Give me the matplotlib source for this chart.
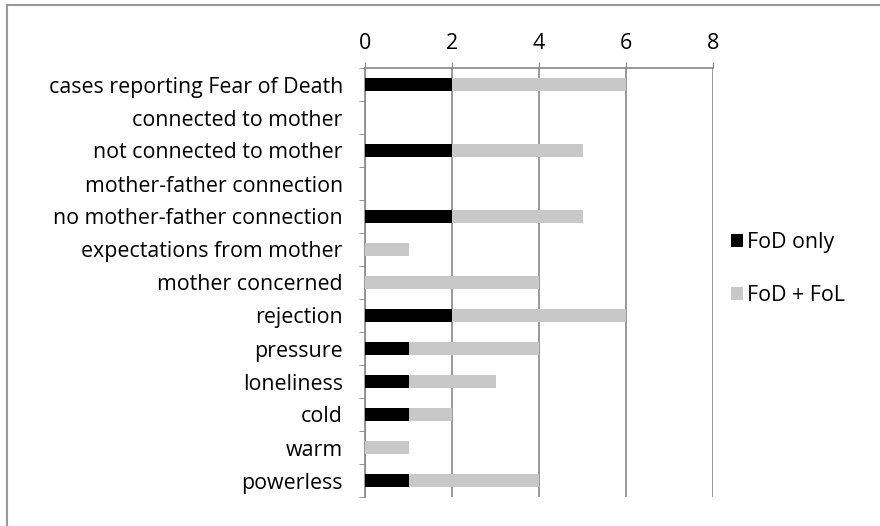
import numpy as np
import matplotlib.pyplot as plt
from matplotlib.lines import Line2D

# Kategorie (od góry)
categories = [
    'cases reporting Fear of Death',
    'connected to mother',
    'not connected to mother',
    'mother-father connection',
    'no mother-father connection',
    'expectations from mother',
    'mother concerned',
    'rejection',
    'pressure',
    'loneliness',
    'cold',
    'warm',
    'powerless',
]
fod_only = [2, 0, 2, 0, 2, 0, 0, 2, 1, 1, 1, 0, 1]
fod_fol = [4, 0, 3, 0, 3, 1, 4, 4, 3, 2, 1, 1, 3]
x_ticks = [0, 2, 4, 6, 8]

plt.rcParams['font.family'] = ['Open Sans', 'DejaVu Sans']
fs = 15.4

fig = plt.figure(figsize=(8.8, 5.26), dpi=100)
ax = fig.add_axes([365 / 880, 1 - 497 / 526, 348 / 880, 429 / 526])

y = np.arange(len(categories))
ax.barh(y, fod_only, height=0.4, color='black', label='FoD only', zorder=3)
ax.barh(y, fod_fol, left=fod_only, height=0.4, color='#c8c8c8', label='FoD + FoL', zorder=3)

ax.set_ylim(len(categories) - 0.5, -0.5)
ax.set_xlim(0, 8)
ax.set_xticks(x_ticks)
ax.xaxis.tick_top()
ax.tick_params(axis='x', which='major', direction='out', length=4, color='#888888',
               labelsize=fs, pad=6)

ax.set_yticks(y)
ax.set_yticklabels(categories, fontsize=fs)
ax.set_yticks(np.arange(len(categories) + 1) - 0.5, minor=True)
ax.tick_params(axis='y', which='major', length=0, pad=16)
ax.tick_params(axis='y', which='minor', direction='out', length=4, color='#888888')

ax.grid(axis='x', color='#888888', linewidth=1.2, zorder=0)
for side in ['right', 'bottom']:
    ax.spines[side].set_visible(False)
for side in ['left', 'top']:
    ax.spines[side].set_color('#888888')
    ax.spines[side].set_linewidth(1.2)

ax.legend(loc='upper left', bbox_to_anchor=(731 / 880, 1 - 232 / 526),
          bbox_transform=fig.transFigure, frameon=False, fontsize=fs,
          handlelength=0.55, handleheight=0.55, handletextpad=0.2, labelspacing=1.5,
          borderaxespad=0, borderpad=0)

# Ramka wykresu (widoczna tylko z lewej i u góry)
fig.add_artist(Line2D([7 / 880, 7 / 880], [0, 1 - 5 / 526], color='#999999', linewidth=1.5))
fig.add_artist(Line2D([7 / 880, 1], [1 - 5 / 526, 1 - 5 / 526], color='#999999', linewidth=1.5))

plt.savefig('out.png', dpi=100)
